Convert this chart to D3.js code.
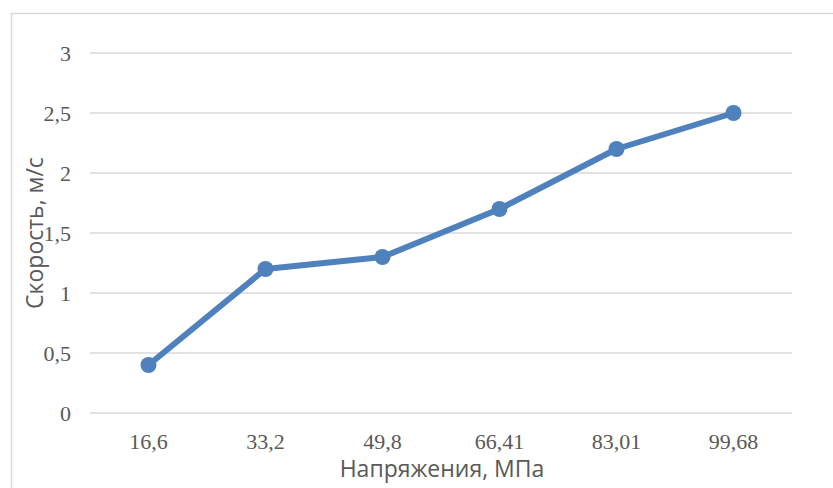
<!DOCTYPE html>
<html>
<head>
<meta charset="utf-8">
<script src="https://cdn.jsdelivr.net/npm/d3@7"></script>
<style>
  html, body { margin: 0; padding: 0; background: #fff; }
  svg { display: block; }
</style>
</head>
<body>
<svg id="chart" width="833" height="488"></svg>
<script>
// Напряжение (категории оси X) и скорость
const categories = ["16,6", "33,2", "49,8", "66,41", "83,01", "99,68"];
const speeds = [0.4, 1.2, 1.3, 1.7, 2.2, 2.5];
const yTicks = [0, 0.5, 1, 1.5, 2, 2.5, 3];

const svg = d3.select("#chart");
const plot = { left: 90, right: 792, top: 53, bottom: 413 };

// outer chart frame
svg.append("rect")
  .attr("x", 11.5).attr("y", 13.5)
  .attr("width", 900).attr("height", 600)
  .attr("fill", "#fff").attr("stroke", "#d9d9d9").attr("stroke-width", 1.5);

const x = d3.scaleBand().domain(categories).range([plot.left, plot.right]);
const y = d3.scaleLinear().domain([0, 3]).range([plot.bottom, plot.top]);

const fmt = v => String(v).replace(".", ",");

// horizontal gridlines
svg.append("g").selectAll("line").data(yTicks).join("line")
  .attr("x1", plot.left).attr("x2", plot.right)
  .attr("y1", d => y(d)).attr("y2", d => y(d))
  .attr("stroke", "#d9d9d9").attr("stroke-width", 1.5);

// y axis labels
const yAxis = d3.axisLeft(y).tickValues(yTicks).tickFormat(fmt).tickSize(0).tickPadding(0);
const gy = svg.append("g").attr("transform", `translate(71,0)`).call(yAxis);
gy.select(".domain").remove();
gy.selectAll("text")
  .attr("font-family", "'Liberation Serif', 'Times New Roman', serif")
  .attr("font-size", 22).attr("fill", "#595959");

// x axis labels
const xAxis = d3.axisBottom(x).tickSize(0).tickPadding(0);
const gx = svg.append("g").attr("transform", `translate(0,${plot.bottom})`).call(xAxis);
gx.select(".domain").remove();
gx.selectAll("text")
  .attr("dy", null).attr("y", 36)
  .attr("font-family", "'Liberation Serif', 'Times New Roman', serif")
  .attr("font-size", 22).attr("fill", "#595959");

// axis titles
svg.append("text")
  .attr("x", 442).attr("y", 477)
  .attr("text-anchor", "middle")
  .attr("font-family", "'Open Sans', sans-serif").attr("font-size", 23)
  .attr("fill", "#595959")
  .text("Напряжения, МПа");

svg.append("text")
  .attr("transform", `translate(43,${(plot.top + plot.bottom) / 2}) rotate(-90)`)
  .attr("text-anchor", "middle")
  .attr("font-family", "'Open Sans', sans-serif").attr("font-size", 23)
  .attr("fill", "#595959")
  .text("Скорость, м/с");

// series line and markers
const cx = (d, i) => x(categories[i]) + x.bandwidth() / 2;
const line = d3.line().x((d, i) => cx(d, i)).y(d => y(d));
svg.append("path").datum(speeds)
  .attr("d", line).attr("fill", "none")
  .attr("stroke", "#4f81bd").attr("stroke-width", 6)
  .attr("stroke-linejoin", "round").attr("stroke-linecap", "round");

svg.append("g").selectAll("circle").data(speeds).join("circle")
  .attr("cx", (d, i) => cx(d, i)).attr("cy", d => y(d))
  .attr("r", 8).attr("fill", "#4f81bd");
</script>
</body>
</html>
